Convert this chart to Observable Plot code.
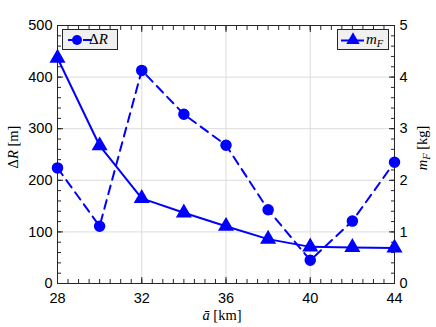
<!DOCTYPE html>
<html><head><meta charset="utf-8">
<script src="https://cdn.jsdelivr.net/npm/d3@7"></script>
<script src="https://cdn.jsdelivr.net/npm/@observablehq/plot@0.6"></script>
<style>
body{margin:0;background:#fff;}
#wrap{position:relative;width:436px;height:327px;overflow:hidden;}
#wrap svg{position:absolute;left:0;top:0;}
.lab{position:absolute;font-family:"Liberation Serif","Times New Roman",serif;font-size:14.5px;color:#000;white-space:nowrap;line-height:1;}
.it{font-style:italic;}
.leg{position:absolute;background:#f0f0f0;border:1px solid #262626;box-sizing:border-box;height:21px;}
.leg svg{position:absolute;left:0;top:0;}
.leg span{position:absolute;top:2px;font-family:"Liberation Serif",serif;font-size:15px;white-space:nowrap;line-height:1;}
</style></head>
<body><div id="wrap"></div>
<script>
// Data
const aBar   = [28, 30, 32, 34, 36, 38, 40, 42, 44];
const deltaR = [224, 111, 413, 328, 268, 143, 45, 121, 235];      // [m], left axis
const mF     = [4.37, 2.67, 1.65, 1.37, 1.11, 0.86, 0.71, 0.70, 0.69]; // [kg], right axis
const xTicks      = [28, 32, 36, 40, 44];
const yLeftTicks  = [0, 100, 200, 300, 400, 500];
const yRightTicks = [0, 1, 2, 3, 4, 5];
const yLeftMax = 500, yRightMax = 5;

const k = yLeftMax / yRightMax; // right-axis units to left-axis units
const rows = aBar.map((a, i) => ({a, dR: deltaR[i], mF: mF[i]}));
const blue = "#0000ff";
const axisCol = "#262626";

const chart = Plot.plot({
  width: 436, height: 327,
  marginLeft: 57, marginRight: 42, marginTop: 25, marginBottom: 44,
  style: {fontFamily: "'Liberation Sans', Arial, sans-serif", fontSize: "14.5px", color: axisCol, background: "white", overflow: "visible"},
  x: {domain: [28, 44]},
  y: {domain: [0, yLeftMax]},
  marks: [
    Plot.gridX(xTicks, {stroke: "#dcdcdc", strokeOpacity: 1, strokeWidth: 1}),
    Plot.gridY(yLeftTicks, {stroke: "#dcdcdc", strokeOpacity: 1, strokeWidth: 1}),
    // inward minor ticks
    Plot.axisX(d3.range(28, 44.001, 0.5), {anchor: "bottom", tickSize: -4, tickFormat: () => "", label: null, stroke: axisCol}),
    Plot.axisX(d3.range(28, 44.001, 0.5), {anchor: "top", tickSize: -4, tickFormat: () => "", label: null, stroke: axisCol}),
    Plot.axisY(d3.range(0, yLeftMax + 0.001, 20), {anchor: "left", tickSize: -4, tickFormat: () => "", label: null, stroke: axisCol}),
    Plot.axisY(d3.range(0, yLeftMax + 0.001, 20), {anchor: "right", tickSize: -4, tickFormat: () => "", label: null, stroke: axisCol}),
    // inward major ticks
    Plot.axisX(xTicks, {anchor: "bottom", tickSize: -6, tickFormat: () => "", label: null, stroke: axisCol}),
    Plot.axisX(xTicks, {anchor: "top", tickSize: -6, tickFormat: () => "", label: null, stroke: axisCol}),
    Plot.axisY(yLeftTicks, {anchor: "left", tickSize: -6, tickFormat: () => "", label: null, stroke: axisCol}),
    Plot.axisY(yRightTicks.map(v => v * k), {anchor: "right", tickSize: -6, tickFormat: () => "", label: null, stroke: axisCol}),
    // tick labels
    Plot.axisX(xTicks, {anchor: "bottom", tickSize: 0, tickPadding: 9, label: null, fill: "#000"}),
    Plot.axisY(yLeftTicks, {anchor: "left", tickSize: 0, tickPadding: 5, label: null, fill: "#000"}),
    Plot.axisY(yRightTicks.map(v => v * k), {anchor: "right", tickSize: 0, tickPadding: 5, label: null, tickFormat: d => d3.format("d")(d / k), fill: "#000"}),
    Plot.frame({stroke: axisCol, strokeWidth: 1}),
    // series
    Plot.line(rows, {x: "a", y: "dR", stroke: blue, strokeWidth: 2, strokeDasharray: "9,6"}),
    Plot.dot(rows, {x: "a", y: "dR", r: 5, fill: blue, stroke: blue, symbol: "circle"}),
    Plot.line(rows, {x: "a", y: d => d.mF * k, stroke: blue, strokeWidth: 2}),
    Plot.dot(rows, {x: "a", y: d => d.mF * k, r: 5, fill: blue, stroke: blue, symbol: "triangle"})
  ]
});

const wrap = document.getElementById("wrap");
wrap.appendChild(chart);

function add(html, css, cls) {
  const d = document.createElement("div");
  d.className = cls;
  d.innerHTML = html;
  Object.assign(d.style, css);
  wrap.appendChild(d);
  return d;
}

// Axis labels
add('<span>Δ</span><span class="it">R</span> [m]', {left: "13px", top: "147px", transform: "translate(-50%,-50%) rotate(-90deg)"}, "lab");
add('<span class="it">m</span><span class="it" style="font-size:10.5px;vertical-align:-3px">F</span> [kg]', {left: "424px", top: "148px", transform: "translate(-50%,-50%) rotate(-90deg)"}, "lab");
add('<span class="it">a&#772;</span> [km]', {left: "222px", top: "308px", transform: "translate(-50%,0)"}, "lab");

// Legends
add('<svg width="55" height="21"><line x1="3" x2="32" y1="10" y2="10" stroke="' + blue + '" stroke-width="2" stroke-dasharray="9,6" stroke-dashoffset="-2"/><circle cx="14" cy="10" r="5" fill="' + blue + '"/></svg><span style="left:26px">Δ<i>R</i></span>',
    {left: "62px", top: "29px", width: "56px"}, "leg");
add('<svg width="52" height="21"><line x1="3" x2="26" y1="10.5" y2="10.5" stroke="' + blue + '" stroke-width="2"/><path d="' + d3.symbol(d3.symbolTriangle, Math.PI * 5 * 5)() + '" transform="translate(15,10)" fill="' + blue + '"/></svg><span style="left:28px"><i>m</i><i style="font-size:10.5px;vertical-align:-3px">F</i></span>',
    {left: "337px", top: "29px", width: "52px"}, "leg");
</script>
</body></html>
